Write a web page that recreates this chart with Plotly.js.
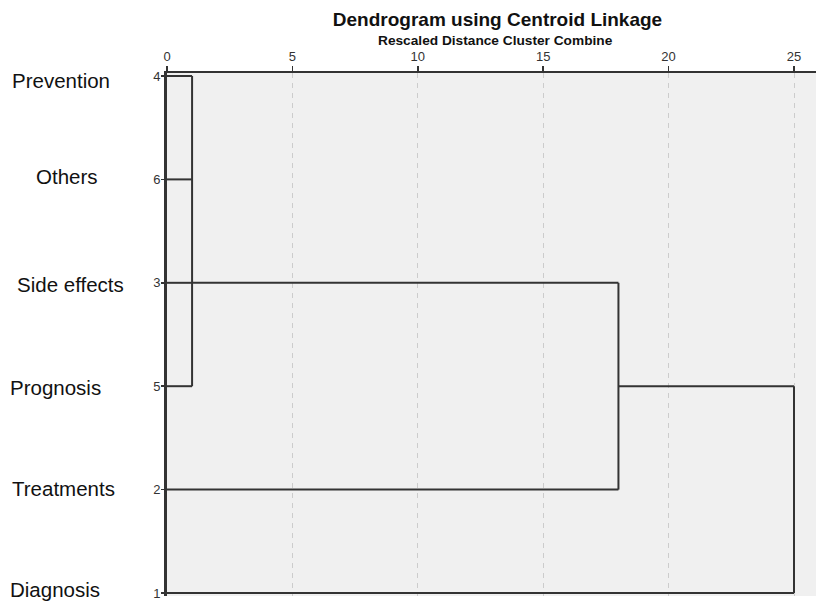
<!DOCTYPE html>
<html>
<head>
<meta charset="utf-8">
<script src="https://cdn.plot.ly/plotly-3.0.1.min.js"></script>
<style>
  html, body { margin: 0; padding: 0; background: #ffffff; }
  #chart { width: 816px; height: 602px; }
</style>
</head>
<body>
<div id="chart"></div>
<script>
// ---- Data ----
const leafIds = ['4', '6', '3', '5', '2', '1'];
const leafNames = ['Prevention', 'Others', 'Side effects', 'Prognosis', 'Treatments', 'Diagnosis'];
const mergeNames = ['A', 'B', 'C'];
const mergeChildren = [['4', '6', '3', '5'], ['A', '2'], ['B', '1']];
const mergeDistances = [1, 18, 25];
const xTickVals = [0, 5, 10, 15, 20, 25];
const chartTitle = 'Dendrogram using Centroid Linkage';
const axisTitle = 'Rescaled Distance Cluster Combine';

// ---- Build dendrogram segments from the merge table ----
const rowOf = {};
const distOf = {};
leafIds.forEach((id, i) => { rowOf[id] = i + 1; distOf[id] = 0; });
const xs = [], ys = [];
mergeNames.forEach((name, m) => {
  const d = mergeDistances[m];
  const rows = mergeChildren[m].map(c => rowOf[c]);
  mergeChildren[m].forEach(c => {
    xs.push(distOf[c], d, null);
    ys.push(rowOf[c], rowOf[c], null);
  });
  xs.push(d, d, null);
  ys.push(Math.min(...rows), Math.max(...rows), null);
  rowOf[name] = Math.round(rows.reduce((a, b) => a + b, 0) / rows.length);
  distOf[name] = d;
});

const traces = [{
  type: 'scatter',
  mode: 'lines',
  x: xs,
  y: ys,
  line: { color: '#333333', width: 2 },
  hoverinfo: 'skip',
  showlegend: false,
  cliponaxis: false
}];

// ---- Layout ----
const FONT = 'Liberation Sans, Arial, Helvetica, sans-serif';
const M = { l: 167, r: 0, t: 73, b: 6 };
const plotW = 816 - M.l - M.r;
const plotH = 602 - M.t - M.b;
const labelLeftPx = [11, 35, 16, 9, 11, 9];
const labelShiftPx = [-4, 3, -2, -1, 1, 4];

const annotations = leafNames.map((name, i) => ({
  text: name,
  xref: 'paper', yref: 'y',
  x: (labelLeftPx[i] - M.l) / plotW,
  y: i + 1,
  xanchor: 'left', yanchor: 'middle',
  yshift: labelShiftPx[i],
  showarrow: false,
  borderpad: 0,
  font: { family: FONT, size: 20.5, color: '#111111' }
}));
annotations.push({
  text: '<b>' + axisTitle + '</b>',
  xref: 'paper', yref: 'paper',
  x: (495.5 - M.l) / plotW,
  y: 1 + (73 - 40.5) / plotH,
  xanchor: 'center', yanchor: 'middle',
  showarrow: false,
  borderpad: 0,
  font: { family: FONT, size: 13.7, color: '#111111' }
});

const layout = {
  width: 816,
  height: 602,
  margin: M,
  paper_bgcolor: '#ffffff',
  plot_bgcolor: '#f0f0f0',
  showlegend: false,
  title: {
    text: '<b>' + chartTitle + '</b>',
    x: 497.5 / 816, xref: 'container', xanchor: 'center',
    y: 1 - 19.5 / 602, yref: 'container', yanchor: 'middle',
    font: { family: FONT, size: 19, color: '#111111' }
  },
  xaxis: {
    side: 'top',
    range: [0, plotW / 25.08],
    tickvals: xTickVals,
    ticktext: xTickVals.map(String),
    ticks: 'outside', ticklen: 5, tickwidth: 1.5, tickcolor: '#333333',
    tickfont: { family: FONT, size: 13, color: '#333333' },
    showline: true, linecolor: '#333333', linewidth: 2,
    showgrid: true, gridcolor: '#cccccc', gridwidth: 1, griddash: '5px,5px',
    zeroline: false,
    fixedrange: true
  },
  yaxis: {
    range: [6 + 3 / 103.4, 1 - 3 / 103.4],
    tickvals: leafIds.map((_, i) => i + 1),
    ticktext: leafIds,
    ticks: 'outside', ticklen: 3, tickwidth: 1.5, tickcolor: '#333333',
    ticklabelstandoff: -2,
    ticklabeloverflow: 'allow',
    tickfont: { family: FONT, size: 13, color: '#333333' },
    showline: true, linecolor: '#333333', linewidth: 3,
    showgrid: false,
    zeroline: false,
    fixedrange: true
  },
  annotations: annotations
};

Plotly.newPlot('chart', traces, layout, { staticPlot: true, displayModeBar: false });
</script>
</body>
</html>
